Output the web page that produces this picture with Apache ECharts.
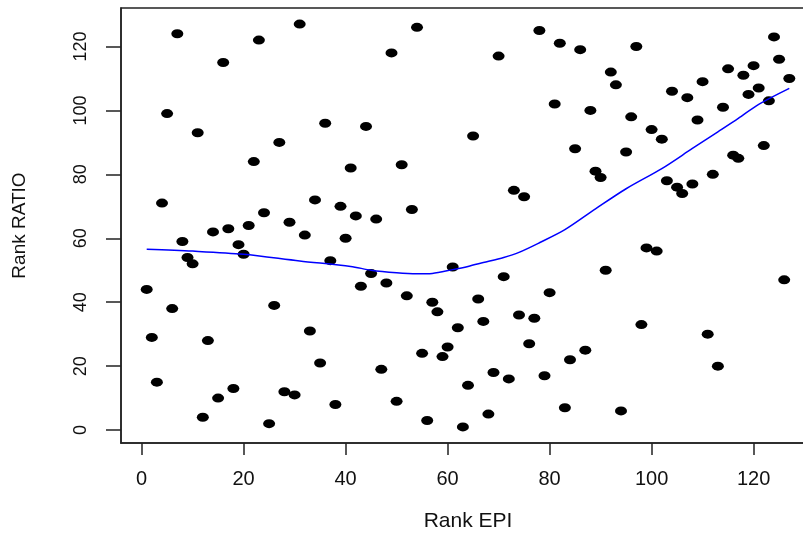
<!DOCTYPE html>
<html>
<head>
<meta charset="utf-8">
<script src="https://cdn.jsdelivr.net/npm/echarts@6/dist/echarts.min.js"></script>
<style>
  html, body { margin: 0; padding: 0; background: #fff; }
  #chart { width: 803px; height: 538px; }
</style>
</head>
<body>
<div id="chart"></div>
<script>
// rank of EPI (x) and rank of RATIO (y) per country
const epiRank = [
  1, 2, 3, 4, 5, 6, 7, 8, 9, 10, 11, 12, 13, 14, 15, 16, 17, 18, 19, 20,
  21, 22, 23, 24, 25, 26, 27, 28, 29, 30, 31, 32, 33, 34, 35, 36, 37, 38, 39, 40,
  41, 42, 43, 44, 45, 46, 47, 48, 49, 50, 51, 52, 53, 54, 55, 56, 57, 58, 59, 60,
  61, 62, 63, 64, 65, 66, 67, 68, 69, 70, 71, 72, 73, 74, 75, 76, 77, 78, 79, 80,
  81, 82, 83, 84, 85, 86, 87, 88, 89, 90, 91, 92, 93, 94, 95, 96, 97, 98, 99, 100,
  101, 102, 103, 104, 105, 106, 107, 108, 109, 110, 111, 112, 113, 114, 115, 116, 117, 118, 119, 120,
  121, 122, 123, 124, 125, 126, 127
];
const ratioRank = [
  44, 29, 15, 71, 99, 38, 124, 59, 54, 52, 93, 4, 28, 62, 10, 115, 63, 13, 58, 55,
  64, 84, 122, 68, 2, 39, 90, 12, 65, 11, 127, 61, 31, 72, 21, 96, 53, 8, 70, 60,
  82, 67, 45, 95, 49, 66, 19, 46, 118, 9, 83, 42, 69, 126, 24, 3, 40, 37, 23, 26,
  51, 32, 1, 14, 92, 41, 34, 5, 18, 117, 48, 16, 75, 36, 73, 27, 35, 125, 17, 43,
  102, 121, 7, 22, 88, 119, 25, 100, 81, 79, 50, 112, 108, 6, 87, 98, 120, 33, 57, 94,
  56, 91, 78, 106, 76, 74, 104, 77, 97, 109, 30, 80, 20, 101, 113, 86, 85, 111, 105, 114,
  107, 89, 103, 123, 116, 47, 110
];
// loess smooth
const loessX = [1, 10, 20, 31, 41, 45, 50, 54, 57, 61, 64, 67, 71, 74, 78, 83, 89, 95, 102, 108, 113, 117, 121, 127];
const loessY = [56.6, 56.0, 55.0, 52.9, 51.2, 50.0, 49.2, 48.9, 49.0, 50.2, 51.2, 52.4, 54.0, 55.6, 58.6, 62.7, 69.2, 75.5, 81.8, 88.1, 93.3, 97.5, 101.9, 106.9];
const tickValues = [0, 20, 40, 60, 80, 100, 120];

const font = "'Liberation Sans', Arial, sans-serif";
const chart = echarts.init(document.getElementById("chart"));

const option = {
  animation: false,
  backgroundColor: "#fff",
  grid: {
    left: 121, top: 8, width: 694, height: 435,
    show: true, borderColor: "#222", borderWidth: 1.5,
    outerBoundsMode: "none"
  },
  xAxis: {
    type: "value", min: -4.04, max: 132.04,
    name: "Rank EPI", nameLocation: "middle", nameGap: 68,
    nameTextStyle: { fontFamily: font, fontSize: 21, color: "#111" },
    axisLine: { show: true, onZero: false, lineStyle: { color: "#222", width: 1.5 } },
    axisTick: { show: true, inside: false, length: 12, customValues: tickValues, lineStyle: { color: "#222", width: 1.5 } },
    axisLabel: { customValues: tickValues, margin: 26, fontFamily: font, fontSize: 20, color: "#111" },
    splitLine: { show: false }
  },
  yAxis: {
    type: "value", min: -4.04, max: 132.04,
    name: "Rank RATIO", nameLocation: "middle", nameGap: 92,
    nameTextStyle: { fontFamily: font, fontSize: 19, color: "#111" },
    axisLine: { show: true, onZero: false, lineStyle: { color: "#222", width: 1.5 } },
    axisTick: { show: true, inside: false, length: 15, customValues: tickValues, lineStyle: { color: "#222", width: 1.5 } },
    axisLabel: { customValues: tickValues, rotate: 90, margin: 31, fontFamily: font, fontSize: 18, color: "#111" },
    splitLine: { show: false }
  },
  series: [
    {
      type: "scatter",
      data: epiRank.map((x, i) => [x, ratioRank[i]]),
      symbol: "circle",
      symbolSize: [12, 9],
      itemStyle: { color: "#000", opacity: 1 },
      z: 2
    },
    {
      type: "line",
      data: loessX.map((x, i) => [x, loessY[i]]),
      smooth: 0.3,
      showSymbol: false,
      lineStyle: { color: "#0000ff", width: 1.5 },
      z: 3
    }
  ]
};
chart.setOption(option);
</script>
</body>
</html>
